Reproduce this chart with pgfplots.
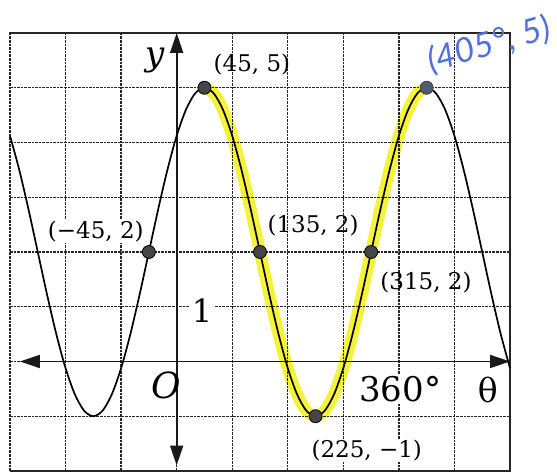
\documentclass[border=0pt]{standalone}
\usepackage{pgfplots}
\pgfplotsset{compat=1.18}
\usepackage{pgfplotstable}
\usepackage{fontspec}
\setmainfont{DejaVu Serif}
\newfontfamily\handfont{Lato}
\usetikzlibrary{arrows.meta}

\definecolor{hilite}{RGB}{245,242,60}
\definecolor{pen}{RGB}{80,112,222}
\definecolor{dotfill}{RGB}{70,70,70}
\definecolor{pendot}{RGB}{78,92,108}

% y = 2 + 3 sin(theta + 45), sampled every 15 degrees
\pgfplotstableread{
t y
-270 4.1213
-255 3.5
-240 2.7765
-225 2
-210 1.2235
-195 0.5
-180 -0.1213
-165 -0.5981
-150 -0.8978
-135 -1
-120 -0.8978
-105 -0.5981
-90 -0.1213
-75 0.5
-60 1.2235
-45 2
-30 2.7765
-15 3.5
0 4.1213
15 4.5981
30 4.8978
45 5
60 4.8978
75 4.5981
90 4.1213
105 3.5
120 2.7765
135 2
150 1.2235
165 0.5
180 -0.1213
195 -0.5981
210 -0.8978
225 -1
240 -0.8978
255 -0.5981
270 -0.1213
285 0.5
300 1.2235
315 2
330 2.7765
345 3.5
360 4.1213
375 4.5981
390 4.8978
405 5
420 4.8978
435 4.5981
450 4.1213
465 3.5
480 2.7765
495 2
510 1.2235
525 0.5
540 -0.1213
}\curve

% one full period, from maximum to maximum
\pgfplotstableread{
t y
45 5
60 4.8978
75 4.5981
90 4.1213
105 3.5
120 2.7765
135 2
150 1.2235
165 0.5
180 -0.1213
195 -0.5981
210 -0.8978
225 -1
240 -0.8978
255 -0.5981
270 -0.1213
285 0.5
300 1.2235
315 2
330 2.7765
345 3.5
360 4.1213
375 4.5981
390 4.8978
405 5
}\period

\pgfplotstableread{
t y
-45 2
45 5
135 2
225 -1
315 2
}\keypts

\begin{document}
\begin{tikzpicture}
\begin{axis}[
  name=ax,
  scale only axis,
  width=500pt, height=438pt,
  xmin=-270, xmax=540, ymin=-2, ymax=6,
  xtick={-270,-180,...,540},
  ytick={-2,-1,...,6},
  xticklabels={,,,,,,,,,,},
  yticklabels={,,,,,,,,,},
  major tick length=0pt,
  grid=major,
  grid style={black!85, line width=1.3pt, dash pattern=on 2.5pt off 1.1pt},
  axis line style={black!85, line width=1.3pt, dash pattern=on 2.5pt off 1.1pt},
  clip=false,
]
% highlighter stroke over one period
\addplot[hilite, line width=12pt, smooth, line cap=round, blend mode=multiply]
  table[x=t, y=y] {\period};

% coordinate axes
\draw[line width=1.8pt, black!90,
  {Triangle[length=20pt,width=13pt]}-{Triangle[length=20pt,width=13pt]}]
  (axis cs:-254,0) -- (axis cs:540,0);
\draw[line width=1.8pt, black!90,
  {Triangle[length=20pt,width=13pt]}-{Triangle[length=20pt,width=13pt]}]
  (axis cs:0,-1.9) -- (axis cs:0,6);

% the sinusoid
\addplot[black, line width=1.7pt, smooth] table[x=t, y=y] {\curve};

% labelled points
\addplot[only marks, mark=*, mark size=6.5pt,
  mark options={fill=dotfill, draw=black, line width=0.8pt}]
  table[x=t, y=y] {\keypts};
\addplot[only marks, mark=*, mark size=6.5pt,
  mark options={fill=pendot, draw=pendot!70!black, line width=0.8pt}]
  coordinates {(405,5)};

% axis labels
\node[font=\fontsize{34}{34}\selectfont\itshape] at (axis cs:-35,5.5) {y};
\node[font=\fontsize{36}{36}\selectfont\itshape] at (axis cs:-17,-0.43) {O};
\node[font=\fontsize{32}{32}\selectfont, fill=white, inner sep=2pt] at (axis cs:41,0.92) {1};
\node[font=\fontsize{34}{34}\selectfont, fill=white, inner sep=1pt] at (axis cs:362,-0.5) {360°};
\node[font=\fontsize{33}{33}\selectfont] at (axis cs:504,-0.52) {θ};

% point labels
\node[font=\fontsize{23}{23}\selectfont] at (axis cs:122,5.43) {(45, 5)};
\node[font=\fontsize{23}{23}\selectfont] at (axis cs:221,2.49) {(135, 2)};
\node[font=\fontsize{23}{23}\selectfont, fill=white, inner sep=1pt] at (axis cs:-131,2.37) {(−45, 2)};
\node[font=\fontsize{23}{23}\selectfont] at (axis cs:404,1.45) {(315, 2)};
\node[font=\fontsize{23}{23}\selectfont, fill=white, inner sep=1pt] at (axis cs:308,-1.62) {(225, −1)};

% pen note
\node[pen, rotate=16, font=\handfont\itshape\fontsize{34}{34}\selectfont]
  at (axis cs:506,5.78) {(405°, 5)};
\end{axis}
\pgfresetboundingbox
\path ([xshift=-10pt,yshift=-4pt]ax.south west) rectangle ([xshift=47pt,yshift=33pt]ax.north east);
\end{tikzpicture}
\end{document}
